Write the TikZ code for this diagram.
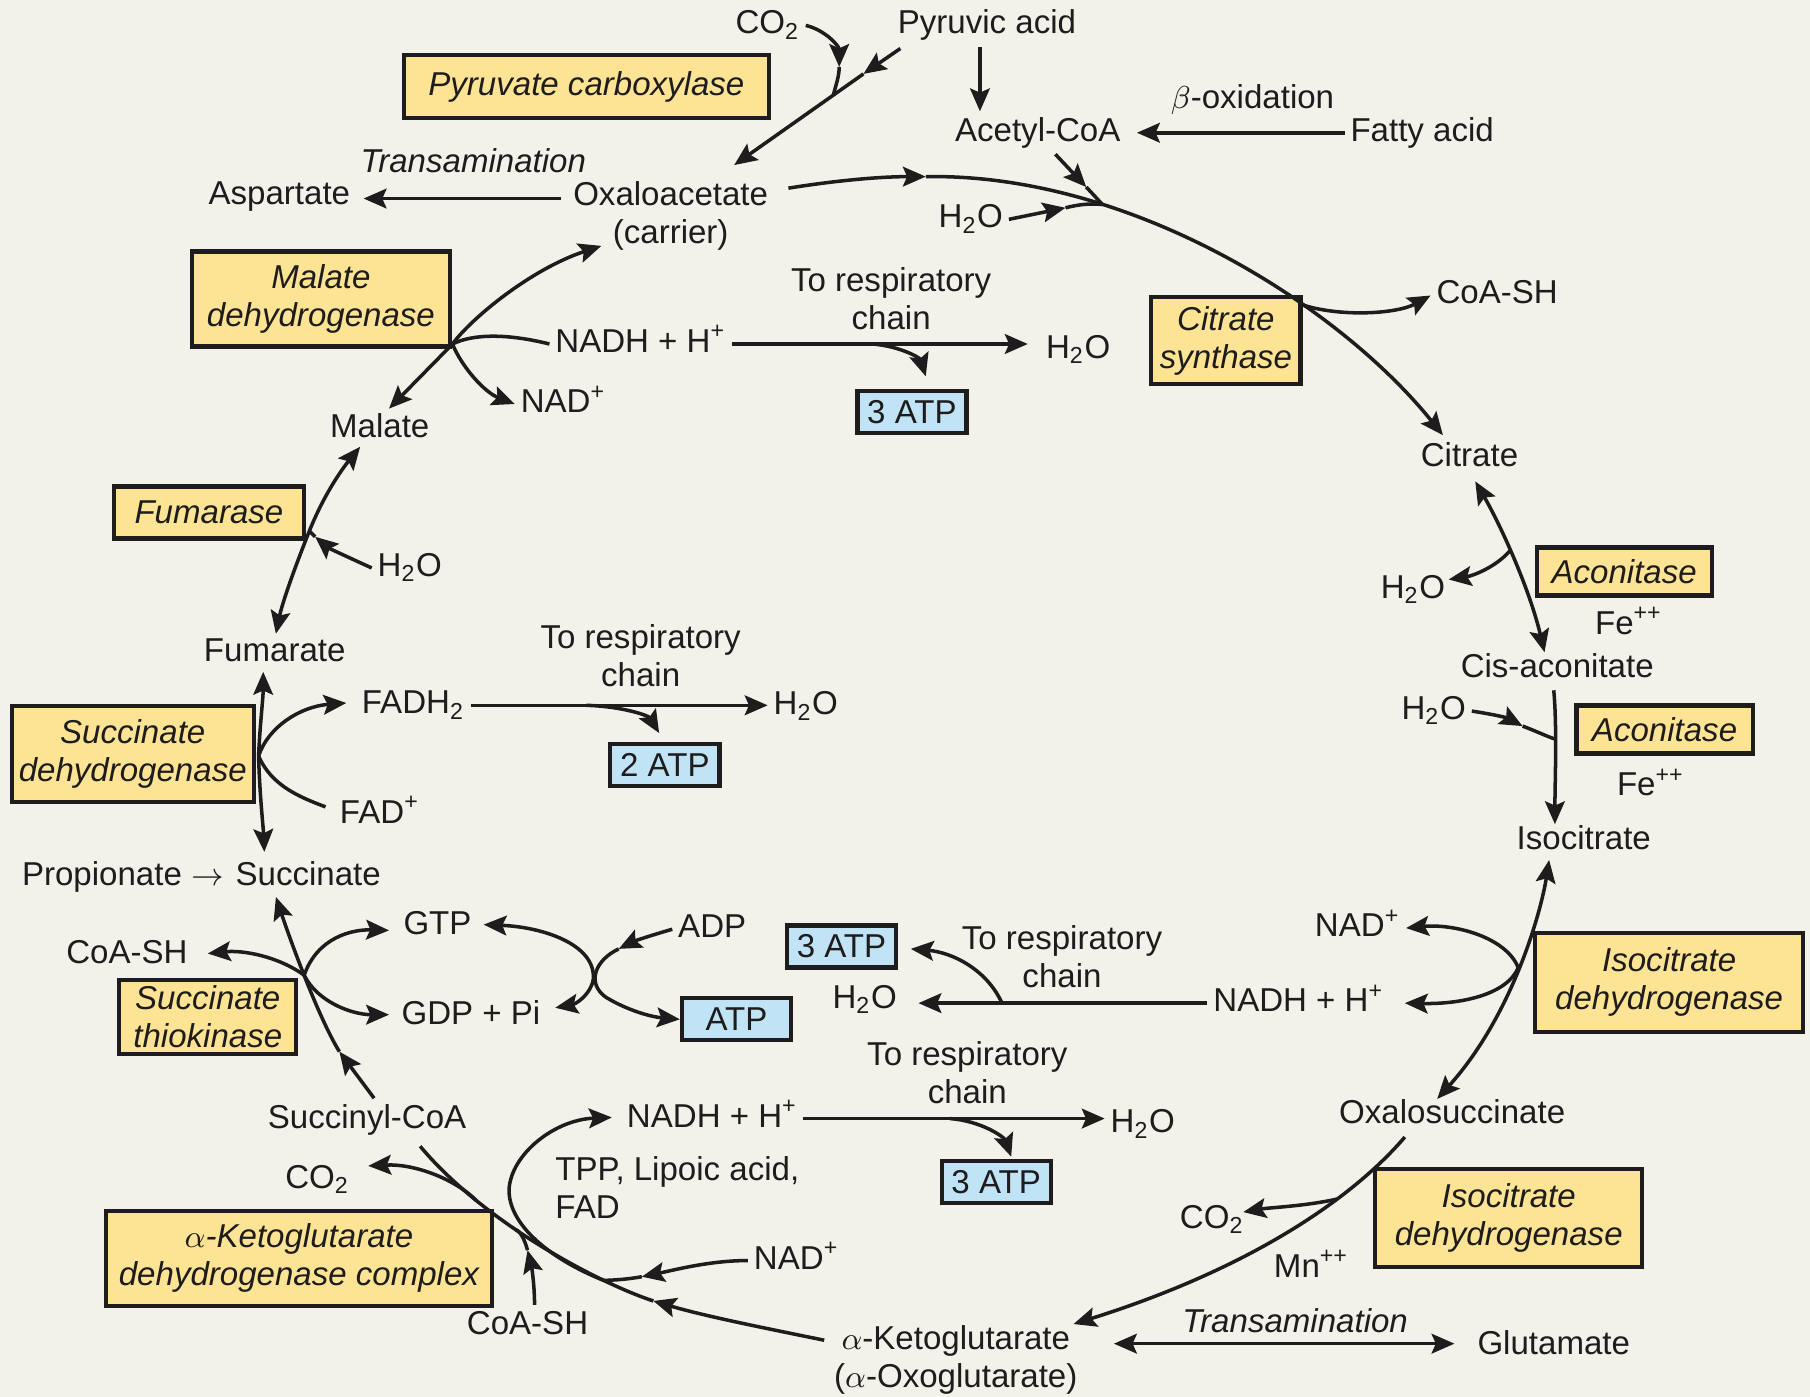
\documentclass[tikz,border=0pt]{standalone}
\usepackage{fontspec}
\setmainfont{Liberation Sans}
\usetikzlibrary{arrows.meta}

\definecolor{paper}{RGB}{242,242,235}
\definecolor{ink}{RGB}{30,28,28}
\definecolor{enzyellow}{RGB}{252,228,148}
\definecolor{atpblue}{RGB}{192,228,246}

\newcommand{\fsz}{\fontsize{9.4}{10.8}\selectfont}

\tikzset{
  metab/.style={font=\fsz, text=ink, inner sep=1.5pt, text height=6.8pt, text depth=2pt},
  twoline/.style={font=\fsz, text=ink, inner sep=1.5pt, align=center},
  itlabel/.style={metab, font=\fsz\itshape},
  enzyme/.style={font=\fsz\itshape, text=ink, align=center, draw=ink, line width=1.2pt, fill=enzyellow, inner sep=0pt},
  atpbox/.style={font=\fsz, text=ink, draw=ink, line width=1.2pt, fill=atpblue, inner sep=0pt, minimum width=1.09cm, minimum height=0.42cm},
  rxn/.style={draw=ink, line width=1pt},
  rxnarrow/.style={rxn, -{Stealth[length=6.5pt, width=5.6pt, inset=1.2pt]}},
  rxnboth/.style={rxn, {Stealth[length=6.5pt, width=5.6pt, inset=1.2pt]}-{Stealth[length=6.5pt, width=5.6pt, inset=1.2pt]}},
}

\begin{document}
\begin{tikzpicture}[x=0.011543cm, y=-0.011543cm]
  \useasboundingbox (0, 0) rectangle (1568, 1210);
  \fill[paper] (0, 0) rectangle (1568, 1210);

  % --- Top: pyruvate, acetyl-CoA, oxaloacetate ---
  \node[metab] (co2a) at (665, 22) {CO\textsubscript{2}};
  \node[metab] (pyr) at (855, 22) {Pyruvic acid};
  \node[enzyme, minimum width=3.65cm, minimum height=0.63cm] (pcarb) at (508, 75) {Pyruvate carboxylase};
  \node[metab] (acoa) at (899, 115) {Acetyl-CoA};
  \node[metab] (boxid) at (1085, 87) {$\beta$-oxidation};
  \node[metab] (fatty) at (1232, 115) {Fatty acid};
  \node[metab] (aspart) at (242, 170) {Aspartate};
  \node[itlabel] (tra1) at (410, 142) {Transamination};
  \node[twoline] (oaa) at (581, 187) {Oxaloacetate\\(carrier)};
  \node[metab] (h2oa) at (841, 190) {H\textsubscript{2}O};

  % --- Malate dehydrogenase ---
  \node[enzyme, minimum width=2.58cm, minimum height=0.95cm] (mdh) at (278, 259) {Malate\\dehydrogenase};
  \node[twoline] (resp1) at (772, 259) {To respiratory\\chain};
  \node[metab] (nadh1) at (555, 298) {NADH + H\textsuperscript{+}};
  \node[metab] (h2ob) at (934, 303) {H\textsubscript{2}O};
  \node[atpbox] (atp1) at (790, 357) {3 ATP};
  \node[metab] (malate) at (329, 372) {Malate};
  \node[metab] (nad1) at (488, 350) {NAD\textsuperscript{+}};

  % --- Citrate synthase ---
  \node[enzyme, minimum width=1.49cm, minimum height=0.87cm] (cs) at (1062, 295) {Citrate\\synthase};
  \node[metab] (csh1) at (1297, 256) {CoA-SH};
  \node[metab] (cit) at (1273, 397) {Citrate};

  % --- Aconitase ---
  \node[enzyme, minimum width=1.75cm, minimum height=0.48cm] (acon1) at (1407, 495) {Aconitase};
  \node[metab] (fe1) at (1411, 542) {Fe\textsuperscript{++}};
  \node[metab] (h2of) at (1224, 511) {H\textsubscript{2}O};
  \node[metab] (cisac) at (1349, 580) {Cis-aconitate};
  \node[enzyme, minimum width=1.76cm, minimum height=0.48cm] (acon2) at (1442, 632) {Aconitase};
  \node[metab] (h2og) at (1242, 616) {H\textsubscript{2}O};
  \node[metab] (fe2) at (1430, 682) {Fe\textsuperscript{++}};
  \node[metab] (iso) at (1372, 729) {Isocitrate};

  % --- Isocitrate dehydrogenase ---
  \node[enzyme, minimum width=2.68cm, minimum height=0.99cm] (idh1) at (1446, 851) {Isocitrate\\dehydrogenase};
  \node[metab] (nad2) at (1176, 804) {NAD\textsuperscript{+}};
  \node[metab] (nadh2) at (1125, 869) {NADH + H\textsuperscript{+}};
  \node[metab] (h2oe) at (749, 866) {H\textsubscript{2}O};
  \node[atpbox] (atp3) at (729, 820) {3 ATP};
  \node[twoline] (resp3) at (920, 829) {To respiratory\\chain};
  \node[metab] (oxs) at (1258, 966) {Oxalosuccinate};
  \node[enzyme, minimum width=2.67cm, minimum height=0.98cm] (idh2) at (1307, 1055) {Isocitrate\\dehydrogenase};
  \node[metab] (co2b) at (1050, 1057) {CO\textsubscript{2}};
  \node[metab] (mn) at (1136, 1099) {Mn\textsuperscript{++}};

  % --- alpha-Ketoglutarate ---
  \node[twoline] (akg) at (828, 1178) {$\alpha$-Ketoglutarate\\($\alpha$-Oxoglutarate)};
  \node[itlabel] (tra2) at (1122, 1147) {Transamination};
  \node[metab] (glu) at (1346, 1166) {Glutamate};

  % --- alpha-KG dehydrogenase complex ---
  \node[enzyme, minimum width=3.85cm, minimum height=0.95cm] (akgdh) at (259, 1090) {$\alpha$-Ketoglutarate\\dehydrogenase complex};
  \node[metab] (succoa) at (318, 970) {Succinyl-CoA};
  \node[metab] (co2c) at (275, 1022) {CO\textsubscript{2}};
  \node[metab] (csh3) at (457, 1149) {CoA-SH};
  \node[metab] (nad3) at (690, 1092) {NAD\textsuperscript{+}};
  \node[metab] (nadh3) at (617, 969) {NADH + H\textsuperscript{+}};
  \node[twoline, align=left, anchor=west] (tpp) at (476, 1029) {TPP, Lipoic acid,\\FAD};
  \node[twoline] (resp4) at (838, 929) {To respiratory\\chain};
  \node[metab] (h2oh) at (990, 974) {H\textsubscript{2}O};
  \node[atpbox] (atp5) at (863, 1024) {3 ATP};

  % --- Succinate thiokinase ---
  \node[enzyme, minimum width=1.77cm, minimum height=0.74cm] (stk) at (180, 881) {Succinate\\thiokinase};
  \node[metab] (csh2) at (110, 827) {CoA-SH};
  \node[metab] (gtp) at (379, 802) {GTP};
  \node[metab] (gdp) at (408, 880) {GDP + Pi};
  \node[metab] (adp) at (617, 805) {ADP};
  \node[atpbox] (atp4) at (638, 883) {ATP};

  % --- Succinate dehydrogenase, fumarase ---
  \node[metab] (succ) at (267, 760) {Succinate};
  \node[metab, anchor=east] (prop) at (succ.west) {Propionate $\rightarrow$};
  \node[enzyme, minimum width=2.42cm, minimum height=0.96cm] (sdh) at (115, 653) {Succinate\\dehydrogenase};
  \node[metab] (fadh) at (358, 611) {FADH\textsubscript{2}};
  \node[metab] (fad) at (329, 706) {FAD\textsuperscript{+}};
  \node[twoline] (resp2) at (555, 568) {To respiratory\\chain};
  \node[metab] (h2od) at (698, 612) {H\textsubscript{2}O};
  \node[atpbox] (atp2) at (576, 663) {2 ATP};
  \node[metab] (fumarate) at (238, 566) {Fumarate};
  \node[enzyme, minimum width=1.9cm, minimum height=0.52cm] (fum) at (181, 444) {Fumarase};
  \node[metab] (h2oc) at (355, 492) {H\textsubscript{2}O};

  % --- Pyruvate carboxylase and entry of acetyl-CoA ---
  \coordinate (pyrout) at (780, 42);
  \coordinate (pcmid) at (748, 64);
  \coordinate (jpc) at (722, 82);
  \coordinate (oaain) at (636, 143);
  \coordinate (co2tip) at (727, 58);
  \draw[rxnarrow] (pyrout) -- (pcmid);
  \draw[rxnarrow] (pcmid) -- (oaain);
  \draw[rxnarrow] (co2a.east) .. controls (715, 26) and (727, 40) .. (co2tip);
  \draw[rxn] (co2tip) .. controls (727, 66) and (724, 74) .. (jpc);
  \draw[rxnarrow] ([xshift=-2pt]pyr.south) -- ([xshift=-2pt]pyr.south |- acoa.north);
  \draw[rxnarrow, shorten >=3pt] (fatty.west) -- (acoa.east);
  \coordinate (oaaw) at (486, 172);
  \coordinate (aspin) at (315, 172);
  \draw[rxnarrow] (oaaw) -- (aspin);

  % --- Citrate synthase ---
  \coordinate (oaaout) at (683, 163);
  \coordinate (arcmid) at (802, 153);
  \coordinate (citin) at (1250, 377);
  \draw[rxnarrow] (oaaout) .. controls (720, 157) and (760, 153) .. (arcmid);
  \draw[rxnarrow] (arcmid) .. controls (980, 150) and (1160, 265) .. (citin)
    coordinate[pos=0.29] (jcs) coordinate[pos=0.65] (jcoa);
  \coordinate (acmid) at (941, 162);
  \draw[rxnarrow] ([xshift=5pt]acoa.south) -- (acmid);
  \draw[rxn] (acmid) -- (jcs);
  \coordinate (h2omid) at (923, 180);
  \draw[rxnarrow] (h2oa.east) -- (h2omid);
  \draw[rxn] (h2omid) .. controls (935, 177) and (945, 176) .. (jcs);
  \draw[rxnarrow] (jcoa) .. controls (1160, 275) and (1210, 272) .. (csh1.west);

  % --- Aconitase ---
  \coordinate (citout) at (1278, 417);
  \coordinate (cisin) at (1338, 565);
  \draw[rxnboth] (citout) .. controls (1300, 455) and (1325, 510) .. (cisin)
    coordinate[pos=0.45] (jac1);
  \coordinate (h2ofin) at (1255, 502);
  \draw[rxnarrow] (jac1) .. controls (1295, 492) and (1275, 499) .. (h2ofin);
  \coordinate (cisout) at (1346, 598);
  \coordinate (isoin) at (1347, 714);
  \draw[rxnarrow] (cisout) .. controls (1349, 630) and (1347, 680) .. (isoin)
    coordinate[pos=0.38] (jac2);
  \coordinate (h2ogmid) at (1319, 629);
  \draw[rxnarrow] (h2og.east) .. controls (1295, 619) and (1306, 622) .. (h2ogmid);
  \draw[rxn] (h2ogmid) .. controls (1330, 633) and (1340, 638) .. (jac2);

  % --- Isocitrate dehydrogenase ---
  \coordinate (isoout) at (1342, 745);
  \coordinate (oxsin) at (1245, 952);
  \draw[rxnboth] (isoout) .. controls (1335, 790) and (1310, 880) .. (oxsin)
    coordinate[pos=0.5] (jidh);
  \coordinate (nadh2in) at (1217, 869);
  \draw[rxnarrow] (jidh) .. controls (1305, 812) and (1260, 800) .. (nad2.east);
  \draw[rxnarrow] (jidh) .. controls (1305, 862) and (1265, 870) .. (nadh2in);
  \draw[rxnarrow, shorten >=4.5pt] (nadh2.west) -- (nadh2.west -| h2oe.east);
  \coordinate (jresp3) at (868, 869);
  \coordinate (atp3in) at (789, 822);
  \draw[rxnarrow] (jresp3) .. controls (855, 840) and (825, 825) .. (atp3in);
  \coordinate (oxsout) at (1217, 985);
  \coordinate (akgin) at (930, 1147);
  \draw[rxnarrow] (oxsout) .. controls (1170, 1040) and (1080, 1100) .. (akgin)
    coordinate[pos=0.32] (jidh2);
  \coordinate (co2bin) at (1077, 1050);
  \draw[rxnarrow] (jidh2) .. controls (1130, 1045) and (1100, 1046) .. (co2bin);
  \coordinate (tra2a) at (965, 1164);
  \coordinate (tra2b) at (1260, 1164);
  \draw[rxnboth] (tra2a) -- (tra2b);

  % --- alpha-KG dehydrogenase complex ---
  \coordinate (akgout) at (714, 1161);
  \coordinate (kgmid) at (566, 1127);
  \coordinate (succoain) at (364, 993);
  \draw[rxnarrow] (akgout) .. controls (660, 1150) and (610, 1140) .. (kgmid);
  \draw[rxn] (kgmid) .. controls (520, 1112) and (420, 1060) .. (succoain)
    coordinate[pos=0.25] (jkg1) coordinate[pos=0.6] (jkg2) coordinate[pos=0.75] (jkg3);
  \coordinate (nad3mid) at (556, 1106);
  \draw[rxnarrow] (nad3.west) .. controls (615, 1092) and (585, 1100) .. (nad3mid);
  \draw[rxn] (nad3mid) .. controls (545, 1108) and (533, 1109) .. (jkg1);
  \coordinate (nadh3in) at (530, 968);
  \draw[rxnarrow] (jkg1) .. controls (475, 1090) and (440, 1060) .. (441, 1030)
    .. controls (443, 1000) and (480, 970) .. (nadh3in);
  \coordinate (csh3mid) at (457, 1083);
  \draw[rxnarrow] ([xshift=2pt]csh3.north) .. controls (463, 1110) and (460, 1095) .. (csh3mid);
  \draw[rxn] (csh3mid) .. controls (454, 1072) and (450, 1066) .. (jkg2);
  \coordinate (co2cin) at (319, 1010);
  \draw[rxnarrow] (jkg3) .. controls (395, 1022) and (360, 1008) .. (co2cin);
  \draw[rxnarrow] (nadh3.east) -- (nadh3.east -| h2oh.west);
  \coordinate (jresp4) at (823, 969);
  \coordinate (atp5in) at (876, 1002);
  \draw[rxnarrow] (jresp4) .. controls (850, 971) and (870, 985) .. (atp5in);

  % --- Succinate thiokinase ---
  \coordinate (stkmid) at (294, 911);
  \coordinate (succback) at (239, 777);
  \draw[rxnarrow] ([xshift=2pt]succoa.north) -- (stkmid);
  \draw[rxnarrow] (stkmid) .. controls (275, 880) and (250, 810) .. (succback)
    coordinate[pos=0.5] (jstk);
  \coordinate (csh2in) at (180, 826);
  \coordinate (gtpin) at (337, 806);
  \coordinate (gdpin) at (337, 879);
  \draw[rxnarrow] (jstk) .. controls (240, 828) and (210, 823) .. (csh2in);
  \draw[rxnarrow] (jstk) .. controls (275, 812) and (305, 805) .. (gtpin);
  \draw[rxnarrow] (jstk) .. controls (275, 868) and (305, 879) .. (gdpin);
  \coordinate (gtpback) at (419, 801);
  \coordinate (gdpback) at (481, 873);
  \draw[rxnboth] (gtpback) .. controls (470, 803) and (516, 818) .. (514, 848)
    .. controls (512, 862) and (498, 870) .. (gdpback);
  \coordinate (adpmid) at (536, 822);
  \draw[rxnarrow] (adp.west) .. controls (565, 810) and (550, 815) .. (adpmid);
  \draw[rxnarrow] (adpmid) .. controls (515, 832) and (508, 852) .. (525, 864)
    .. controls (545, 876) and (565, 881) .. (atp4.west);

  % --- Succinate dehydrogenase ---
  \coordinate (jsdh) at (224, 655);
  \coordinate (succin) at (229, 738);
  \coordinate (fumback) at (228, 582);
  \draw[rxnboth] (succin) .. controls (228, 715) and (225, 690) .. (jsdh)
    .. controls (225, 630) and (228, 605) .. (fumback);
  \coordinate (fadhin) at (300, 609);
  \coordinate (fadout) at (282, 699);
  \draw[rxnarrow] (jsdh) .. controls (232, 630) and (260, 612) .. (fadhin);
  \draw[rxn] (jsdh) .. controls (235, 680) and (258, 690) .. (fadout);
  \draw[rxnarrow] (fadh.east) -- (fadh.east -| h2od.west);
  \coordinate (jresp2) at (508, 611);
  \coordinate (atp2in) at (571, 635);
  \draw[rxnarrow] (jresp2) .. controls (540, 612) and (562, 620) .. (atp2in);

  % --- Fumarase ---
  \coordinate (jfum) at (268, 460);
  \coordinate (fumin) at (239, 549);
  \coordinate (malback) at (312, 387);
  \draw[rxnboth] (fumin) .. controls (245, 520) and (258, 485) .. (jfum)
    .. controls (280, 430) and (295, 408) .. (malback);
  \coordinate (h2ocmid) at (273, 465);
  \draw[rxnarrow] (h2oc.west) .. controls (300, 482) and (285, 475) .. (h2ocmid);
  \draw[rxn] (h2ocmid) -- (jfum);

  % --- Malate dehydrogenase ---
  \coordinate (jmdh) at (392, 298);
  \coordinate (malin) at (337, 354);
  \coordinate (oaaback) at (521, 213);
  \draw[rxnboth] (malin) -- (jmdh) .. controls (408, 276) and (460, 233) .. (oaaback);
  \draw[rxn] (jmdh) .. controls (410, 289) and (440, 289) .. (nadh1.west);
  \draw[rxnarrow] (jmdh) .. controls (400, 318) and (420, 340) .. (nad1.west);
  \draw[rxnarrow, shorten >=3.5pt] (nadh1.east) -- (nadh1.east -| h2ob.west);
  \coordinate (jresp1) at (756, 298);
  \coordinate (atp1in) at (802, 326);
  \draw[rxnarrow] (jresp1) .. controls (780, 300) and (797, 310) .. (atp1in);

\end{tikzpicture}
\end{document}
